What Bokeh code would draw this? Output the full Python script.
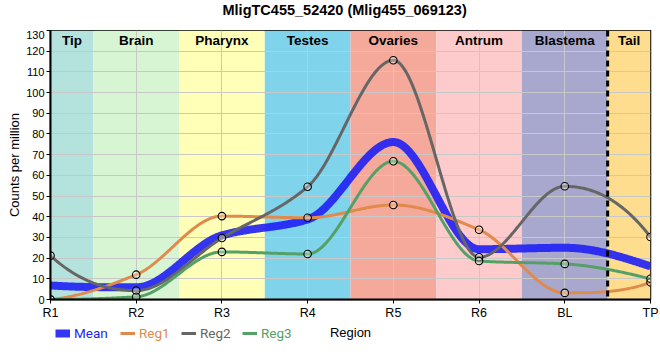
import numpy as np
from bokeh.plotting import figure
from bokeh.layouts import column
from bokeh.models import (ColumnDataSource, FixedTicker, Span, Legend, LegendItem, Label)
from bokeh.core.properties import value
from bokeh.embed import file_html
from bokeh.resources import INLINE

# ---- data ----
positions = ["R1", "R2", "R3", "R4", "R5", "R6", "BL", "TP"]
mean_vals = [6.8, 5.9, 31.0, 38.7, 76.1, 24.3, 25.0, 16.0]
reg1_vals = [0.0, 12.0, 40.3, 39.5, 45.7, 33.7, 3.2, 8.3]
reg2_vals = [21.2, 4.3, 29.7, 54.5, 115.6, 20.4, 54.7, 30.2]
reg3_vals = [0.0, 1.3, 23.0, 22.0, 66.8, 18.6, 17.2, 10.0]

region_names = ["Tip", "Brain", "Pharynx", "Testes", "Ovaries", "Antrum", "Blastema", "Tail"]
region_start = [0.0, 0.5, 1.5, 2.5, 3.5, 4.5, 5.5, 6.5]
region_end = [0.5, 1.5, 2.5, 3.5, 4.5, 5.5, 6.5, 7.0]
region_colors = ["#b4e2dd", "#d7f5d2", "#ffffb8", "#7fd3eb", "#f5a99b",
                 "#fdcbcb", "#a8a8ce", "#fedd8e"]

y_ticks = list(range(0, 131, 10))

TITLE = "MligTC455_52420 (Mlig455_069123)"

C_MEAN = "#1f1ff5"
C_REG1 = "#e08a4c"
C_REG2 = "#666666"
C_REG3 = "#55a066"


def pchip(x, y, xs):
    x = np.asarray(x, float)
    y = np.asarray(y, float)
    n = len(x)
    h = np.diff(x)
    delta = np.diff(y) / h
    d = np.zeros(n)
    for k in range(1, n - 1):
        if delta[k - 1] * delta[k] <= 0:
            d[k] = 0.0
        else:
            w1 = 2 * h[k] + h[k - 1]
            w2 = h[k] + 2 * h[k - 1]
            d[k] = (w1 + w2) / (w1 / delta[k - 1] + w2 / delta[k])

    def end(h0, h1, d0, d1):
        v = ((2 * h0 + h1) * d0 - h0 * d1) / (h0 + h1)
        if np.sign(v) != np.sign(d0):
            v = 0.0
        elif np.sign(d0) != np.sign(d1) and abs(v) > abs(3 * d0):
            v = 3 * d0
        return v

    d[0] = end(h[0], h[1], delta[0], delta[1])
    d[-1] = end(h[-1], h[-2], delta[-1], delta[-2])
    out = np.empty_like(xs, dtype=float)
    idx = np.clip(np.searchsorted(x, xs) - 1, 0, n - 2)
    for i, xv in enumerate(xs):
        k = idx[i]
        t = (xv - x[k]) / h[k]
        h00 = 2 * t**3 - 3 * t**2 + 1
        h10 = t**3 - 2 * t**2 + t
        h01 = -2 * t**3 + 3 * t**2
        h11 = t**3 - t**2
        out[i] = h00 * y[k] + h10 * h[k] * d[k] + h01 * y[k + 1] + h11 * h[k] * d[k + 1]
    return out


xpos = np.arange(len(positions), dtype=float)
xs = np.linspace(0, len(positions) - 1, 600)

W = 660

# title strip
p0 = figure(width=W, height=30, output_backend="svg", toolbar_location=None,
            x_range=(0, 1), y_range=(0, 1), x_axis_location=None,
            y_axis_location=None, min_border=0)
p0.outline_line_color = None
p0.grid.visible = False
p0.add_layout(Label(x=172, y=21, x_units="screen", y_units="screen", text=TITLE,
                    text_align="left", text_baseline="middle",
                    text_font="Liberation Sans", text_font_size="14.5px",
                    text_font_style="bold", text_color="black"))

p = figure(width=W, height=292, output_backend="svg", toolbar_location=None,
           x_range=(0, 7), y_range=(0, 130),
           min_border_left=50, min_border_right=10, min_border_top=0,
           min_border_bottom=22, title=None)

# region bands
band_src = ColumnDataSource(dict(left=region_start, right=region_end,
                                 color=region_colors, name=region_names,
                                 cx=[(a + b) / 2 for a, b in zip(region_start, region_end)],
                                 cy=[125.4] * len(region_names)))
r_band = p.quad(left="left", right="right", bottom=0, top=130, fill_color="color",
                line_color=None, source=band_src)
r_band.level = "image"
p.text(x="cx", y="cy", text="name", source=band_src, text_align="center",
       text_baseline="middle", text_font=value("Liberation Sans"),
       text_font_size="13.5px", text_font_style="bold", text_color="black")

# curves
mean_style = dict(line_color=C_MEAN, line_width=8, line_alpha=0.9)
reg_styles = [dict(line_color=c, line_width=3) for c in (C_REG1, C_REG2, C_REG3)]
p.line(xs, pchip(xpos, mean_vals, xs), **mean_style)
for vals, st in zip((reg1_vals, reg2_vals, reg3_vals), reg_styles):
    p.line(xs, pchip(xpos, vals, xs), **st)
for vals in (reg1_vals, reg2_vals, reg3_vals):
    p.scatter(xpos, vals, size=7.5, marker="circle", fill_color="white",
              fill_alpha=0.3, line_color="black", line_width=1.1)

# dashed divider
p.add_layout(Span(location=6.5, dimension="height", line_color="black",
                  line_width=3, line_dash="6 4"))

# axes
p.xaxis.ticker = FixedTicker(ticks=list(xpos))
p.xaxis.major_label_overrides = {i: s for i, s in enumerate(positions)}
p.yaxis.ticker = FixedTicker(ticks=y_ticks)
for ax in (p.xaxis[0], p.yaxis[0]):
    ax.axis_line_width = 2
    ax.axis_line_color = "black"
    ax.major_tick_line_color = "black"
    ax.major_tick_out = 4
    ax.major_tick_in = 0
    ax.minor_tick_line_color = None
    ax.major_label_text_font = "Liberation Sans"
    ax.major_label_text_color = "black"
    ax.axis_label_text_font = "Liberation Sans"
    ax.axis_label_text_font_style = "normal"
    ax.axis_label_text_color = "black"
    ax.axis_label_text_font_size = "13px"
    ax.major_label_standoff = 2
    ax.axis_label_standoff = 1
p.xaxis.major_label_text_font_size = "12.5px"
p.yaxis.major_label_text_font_size = "11px"
p.yaxis.axis_label = "Counts per million"

p.grid.grid_line_color = "#c8c8c8"
p.grid.grid_line_width = 1
p.outline_line_color = "black"
p.outline_line_width = 1.5

# legend row (own strip so every label can keep its own colour)
p2 = figure(width=W, height=38, output_backend="svg", toolbar_location=None,
            x_range=(0, 1), y_range=(0, 1), x_axis_location=None,
            y_axis_location=None, min_border=0)
p2.outline_line_color = None
p2.grid.visible = False
nan2 = [np.nan, np.nan]
lr_mean = p2.line(nan2, nan2, **mean_style)
lr_regs = [p2.line(nan2, nan2, **st) for st in reg_styles]
entries = [("Mean", lr_mean, C_MEAN, 5), ("Reg1", lr_regs[0], C_REG1, 70),
           ("Reg2", lr_regs[1], C_REG2, 131), ("Reg3", lr_regs[2], C_REG3, 192)]
for label, rend, col, xo in entries:
    lg = Legend(items=[LegendItem(label=label, renderers=[rend])],
                location=(xo, 19), orientation="horizontal",
                background_fill_alpha=0, border_line_alpha=0,
                label_text_color=col, label_text_font="Roboto",
                label_text_font_size="13.5px", glyph_width=15, glyph_height=14,
                label_standoff=4, padding=0, margin=0, spacing=0)
    p2.add_layout(lg, "center")
p2.add_layout(Label(x=300, y=28, x_units="screen", y_units="screen", text="Region",
                    text_align="center", text_baseline="middle",
                    text_font="Liberation Sans", text_font_size="13px",
                    text_color="black"))

open("out.html", "w").write(file_html(column(p0, p, p2, spacing=0), INLINE))
